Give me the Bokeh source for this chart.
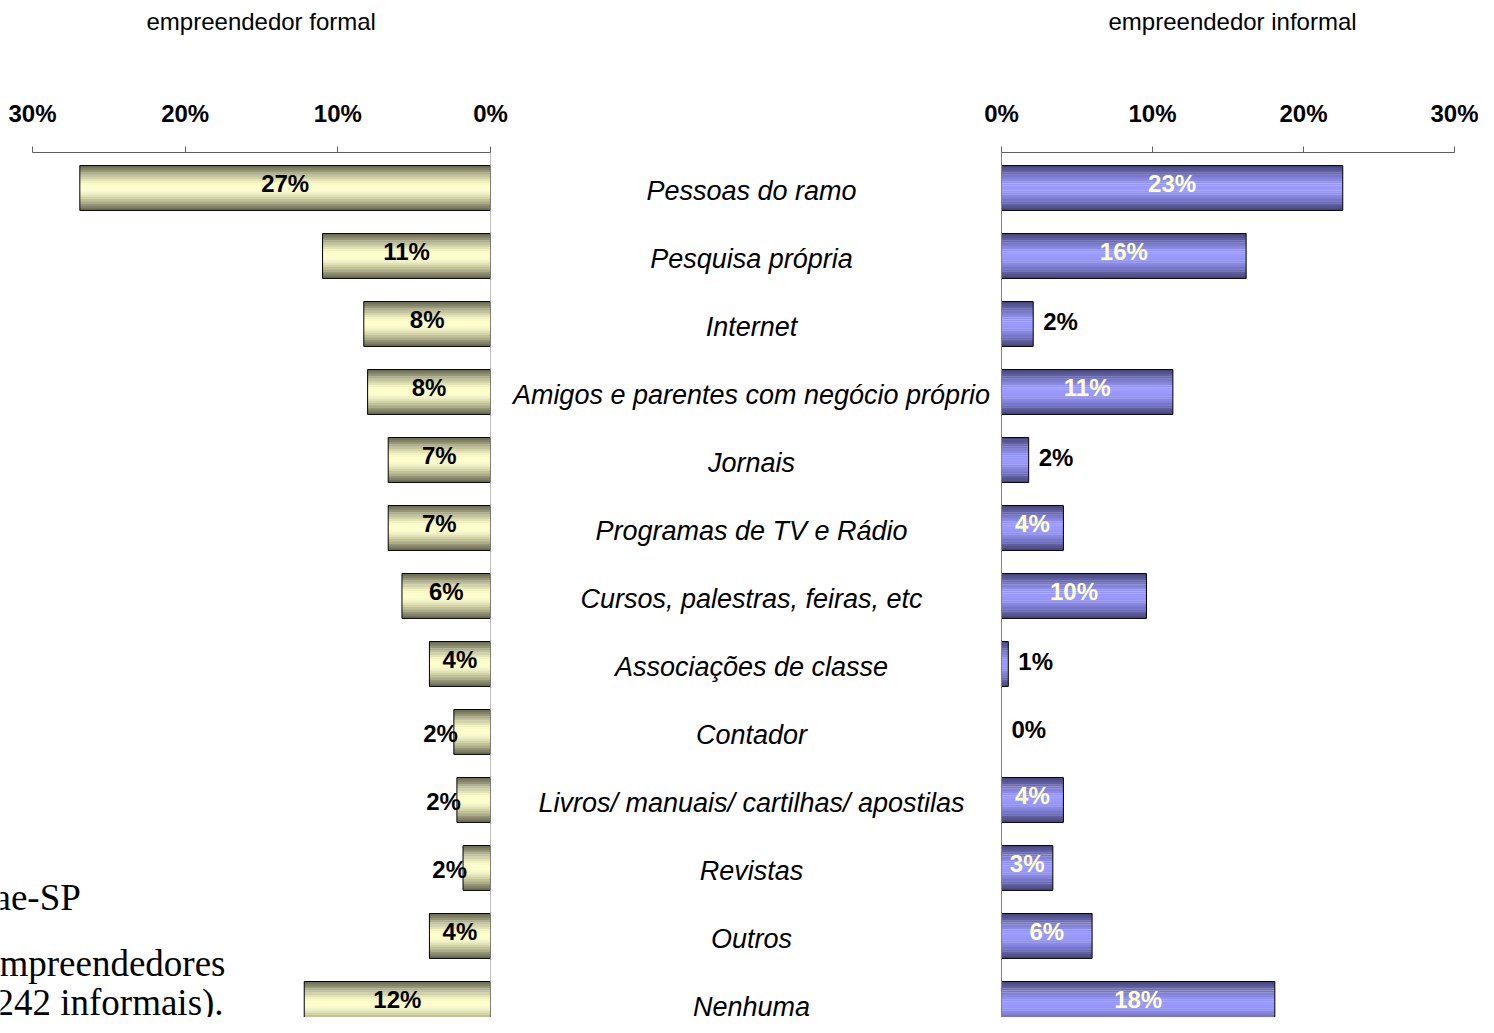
import numpy as np
from bokeh.plotting import figure
from bokeh.models import Range1d, FixedTicker, Span, ColumnDataSource
from bokeh.layouts import row
from bokeh.embed import file_html
from bokeh.resources import INLINE
from bokeh.core.properties import value

# ---------------- data ----------------
categories = [
    "Pessoas do ramo",
    "Pesquisa própria",
    "Internet",
    "Amigos e parentes com negócio próprio",
    "Jornais",
    "Programas de TV e Rádio",
    "Cursos, palestras, feiras, etc",
    "Associações de classe",
    "Contador",
    "Livros/ manuais/ cartilhas/ apostilas",
    "Revistas",
    "Outros",
    "Nenhuma",
]
formal = [26.9, 11.0, 8.3, 8.05, 6.7, 6.7, 5.8, 4.0, 2.4, 2.2, 1.8, 4.0, 12.2]
formal_labels = ["27%", "11%", "8%", "8%", "7%", "7%", "6%", "4%", "2%", "2%", "2%", "4%", "12%"]
informal = [22.6, 16.2, 2.1, 11.35, 1.8, 4.1, 9.6, 0.45, 0.0, 4.1, 3.4, 6.0, 18.1]
informal_labels = ["23%", "16%", "2%", "11%", "2%", "4%", "10%", "1%", "0%", "4%", "3%", "6%", "18%"]
tick_values = [0, 10, 20, 30]
tick_labels = ["0%", "10%", "20%", "30%"]
title_formal = "empreendedor formal"
title_informal = "empreendedor informal"
side_text = ["ae-SP", "mpreendedores", "242 informais)."]

# ---------------- style / placement ----------------
FONT = "Liberation Sans"
SERIF = "Liberation Serif"
BAR_H = 0.66
N_STRIPS = 20
INSIDE_MIN = 3.0
LABEL_X = -16.556
Y_RANGE = (12.199, -0.522)
LEFT_X = (32.096, 0)
RIGHT_X = (-32.649, 31.589)
TOP_BORDER = 152
H = 1017
TITLE_OFFSET_L = 146
TITLE_OFFSET_R = 600
SPACER_STANDOFF = 45
SIDE_Y = [10.434, 11.41, 11.98]
SIDE_XOFF = [-6, -1, -5]

yellow_light = (0xFF, 0xFF, 0xCC)
yellow_dark = (0x6C, 0x6C, 0x55)
blue_light = (0x99, 0x99, 0xFF)
blue_dark = (0x48, 0x48, 0x7C)


def mix(c1, c2, f):
    return "#%02x%02x%02x" % tuple(int(round(a + (b - a) * f)) for a, b in zip(c1, c2))


idx = list(range(len(categories)))


def base_fig(width, xr, min_right, title, title_offset):
    p = figure(width=width, height=H, x_range=Range1d(*xr), y_range=Range1d(*Y_RANGE),
               x_axis_location="above", y_axis_location=None,
               output_backend="svg", toolbar_location=None,
               min_border_left=0, min_border_right=min_right,
               min_border_top=TOP_BORDER, min_border_bottom=0,
               title=title, title_location="above")
    p.title.align = "left"
    p.title.offset = title_offset
    p.title.standoff = 0
    p.title.text_font = FONT
    p.title.text_font_size = "24px"
    p.title.text_font_style = "normal"
    p.title.text_color = "black"
    p.xgrid.visible = False
    p.ygrid.visible = False
    p.outline_line_color = None
    p.background_fill_color = "white"
    p.border_fill_color = "white"
    ax = p.xaxis[0]
    ax.ticker = FixedTicker(ticks=tick_values)
    ax.major_label_overrides = dict(zip(tick_values, tick_labels))
    ax.bounds = (0, 30)
    ax.axis_line_color = "#606060"
    ax.major_tick_line_color = "#606060"
    ax.major_tick_out = 6
    ax.major_tick_in = 0
    ax.minor_tick_line_color = None
    ax.major_label_text_font = FONT
    ax.major_label_text_font_style = "bold"
    ax.major_label_text_font_size = "24px"
    ax.major_label_text_color = "black"
    ax.major_label_standoff = 20
    # blank axis label used only as vertical spacer between ticks and title
    ax.axis_label = " "
    ax.axis_label_text_font_size = "12px"
    ax.axis_label_standoff = SPACER_STANDOFF
    p.add_layout(Span(location=0, dimension="height", line_color="#808080", line_width=1))
    return p


def draw_bars(p, vals, light, dark):
    for k in range(N_STRIPS):
        t = (k + 0.5) / N_STRIPS
        f = np.sin(np.pi * t) ** 1.3
        yk = [i - BAR_H / 2 + t * BAR_H for i in idx]
        p.hbar(y=yk, left=vals, right=0, height=BAR_H / N_STRIPS * 1.1,
               fill_color=mix(dark, light, f), line_color=None)
    p.hbar(y=idx, left=vals, right=0, height=BAR_H, fill_color=None,
           line_color="black", line_width=1,
           line_alpha=[1 if v > 0 else 0 for v in vals])


# ---------------- left (formal) ----------------
pl = base_fig(508, LEFT_X, 18, title_formal, TITLE_OFFSET_L)
draw_bars(pl, formal, yellow_light, yellow_dark)
inside = [v >= INSIDE_MIN for v in formal]
src_l = ColumnDataSource(dict(
    x=[v / 2 if ins else v for v, ins in zip(formal, inside)],
    y=idx,
    t=formal_labels,
    align=["center" if ins else "right" for ins in inside],
    xo=[0 if ins else 4 for ins in inside],
    yo=[-4 if ins else 2 for ins in inside],
))
pl.text(x="x", y="y", text="t", source=src_l, text_align="align", x_offset="xo", y_offset="yo",
        text_baseline="middle", text_font=value(FONT), text_font_style="bold",
        text_font_size="24px", text_color="black")
pl.text(x=[LEFT_X[0]] * len(side_text), y=SIDE_Y, text=side_text, x_offset=SIDE_XOFF,
        text_align="left", text_baseline="alphabetic", text_font=value(SERIF),
        text_font_size="37px", text_color="black")

# ---------------- right (informal) ----------------
pr = base_fig(970, RIGHT_X, 0, title_informal, TITLE_OFFSET_R)
draw_bars(pr, informal, blue_light, blue_dark)
inside_r = [v >= INSIDE_MIN for v in informal]
src_r = ColumnDataSource(dict(
    x=[v / 2 if ins else v for v, ins in zip(informal, inside_r)],
    y=idx,
    t=informal_labels,
    align=["center" if ins else "left" for ins in inside_r],
    xo=[0 if ins else 10 for ins in inside_r],
    yo=[-4 if ins else -2 for ins in inside_r],
    c=["#FFFFCC" if ins else "black" for ins in inside_r],
))
pr.text(x="x", y="y", text="t", source=src_r, text_align="align", x_offset="xo", y_offset="yo",
        text_baseline="middle", text_font=value(FONT), text_font_style="bold",
        text_font_size="24px", text_color="c")
pr.text(x=[LABEL_X] * len(categories), y=idx, text=categories, y_offset=3,
        text_align="center", text_baseline="middle", text_font=value(FONT),
        text_font_style="italic", text_font_size="27px", text_color="black")

layout = row(pl, pr)
open("out.html", "w").write(file_html(layout, INLINE))
